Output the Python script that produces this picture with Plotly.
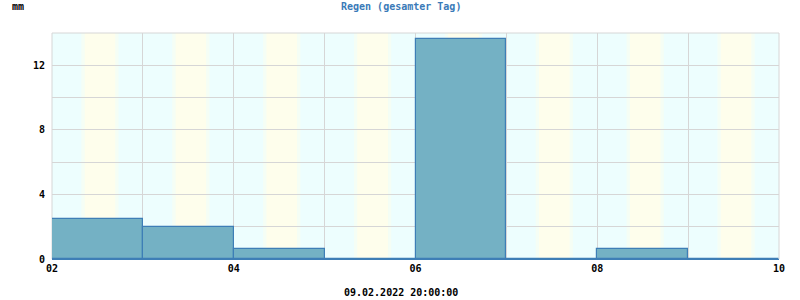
import plotly.graph_objects as go
from datetime import datetime, timedelta

days = ["2022-02-02", "2022-02-03", "2022-02-04", "2022-02-05",
        "2022-02-06", "2022-02-07", "2022-02-08", "2022-02-09"]
rain_mm = [2.45, 2.0, 0.65, 0.0, 13.6, 0.0, 0.65, 0.0]
sunrise = "08:10"
sunset = "17:10"
y_ticks = [0, 4, 8, 12]
title_text = "Regen (gesamter Tag)"
unit_text = "mm"
stamp_text = "09.02.2022 20:00:00"

CYAN = "#EDFEFE"
YELLOW = "#FEFEEC"
MID = "#F5FEF5"
FILL = "#74B1C4"
EDGE = "#3E7EB6"
GRID = "#D6D6D6"
FONT = "DejaVu Sans Mono"

centers = [datetime.fromisoformat(d) + timedelta(hours=12) for d in days]

fig = go.Figure()
fig.add_trace(go.Bar(
    x=centers, y=rain_mm, width=[86400000] * len(days),
    marker=dict(color=FILL, line=dict(color=EDGE, width=1.2)),
    hoverinfo="skip",
))

shapes = []
for d in days:
    base = datetime.fromisoformat(d)
    sr = base + timedelta(hours=int(sunrise[:2]), minutes=int(sunrise[3:]))
    ss = base + timedelta(hours=int(sunset[:2]), minutes=int(sunset[3:]))
    tw = timedelta(minutes=25)
    shapes.append(dict(type="rect", xref="x", yref="paper", x0=sr - tw, x1=sr + tw,
                       y0=0, y1=1, fillcolor=MID, line=dict(width=0), layer="below"))
    shapes.append(dict(type="rect", xref="x", yref="paper", x0=ss - tw, x1=ss + tw,
                       y0=0, y1=1, fillcolor=MID, line=dict(width=0), layer="below"))
    shapes.append(dict(type="rect", xref="x", yref="paper", x0=sr + tw, x1=ss - tw,
                       y0=0, y1=1, fillcolor=YELLOW, line=dict(width=0), layer="below"))
shapes.append(dict(type="rect", xref="paper", yref="paper", x0=0, x1=1, y0=0, y1=1,
                   line=dict(color=GRID, width=1), fillcolor="rgba(0,0,0,0)", layer="between"))

fig.update_layout(
    width=800, height=300,
    margin=dict(l=52, r=21, t=33, b=41),
    paper_bgcolor="white", plot_bgcolor=CYAN,
    showlegend=False, bargap=0,
    shapes=shapes,
    font=dict(family=FONT, size=10, color="black"),
    annotations=[
        dict(text="<b>" + title_text + "</b>", xref="paper", yref="paper", x=0.48, y=1,
             yshift=27, showarrow=False, xanchor="center", yanchor="middle",
             font=dict(family=FONT, size=10, color="#3A7AB8")),
        dict(text="<b>" + unit_text + "</b>", xref="paper", yref="paper", x=-0.058, y=1,
             yshift=27, showarrow=False, xanchor="left", yanchor="middle",
             font=dict(family=FONT, size=10, color="black")),
        dict(text="<b>" + stamp_text + "</b>", xref="paper", yref="paper", x=0.4797, y=0,
             yshift=-33, showarrow=False, xanchor="center", yanchor="middle",
             font=dict(family=FONT, size=10, color="black")),
    ],
)

fig.update_xaxes(
    type="date", range=["2022-02-02", "2022-02-10"],
    tickvals=["2022-02-02", "2022-02-04", "2022-02-06", "2022-02-08", "2022-02-10"],
    ticktext=["<b>02</b>", "<b>04</b>", "<b>06</b>", "<b>08</b>", "<b>10</b>"],
    showgrid=True, gridcolor=GRID, gridwidth=1,
    minor=dict(dtick=86400000, showgrid=True, gridcolor=GRID, gridwidth=1),
    showline=True, linecolor=EDGE, linewidth=1.2,
    ticks="", tickfont=dict(family=FONT, size=10, color="black"),
    zeroline=False, fixedrange=True,
)
fig.update_yaxes(
    range=[0, 14], tickvals=y_ticks, ticktext=["<b>%d</b>" % v for v in y_ticks],
    showgrid=True, gridcolor=GRID, gridwidth=1,
    minor=dict(dtick=2, showgrid=True, gridcolor=GRID, gridwidth=1),
    ticks="", ticklabelstandoff=6, tickfont=dict(family=FONT, size=10, color="black"),
    zeroline=False, showline=False,
)

fig.write_html("out.html")
